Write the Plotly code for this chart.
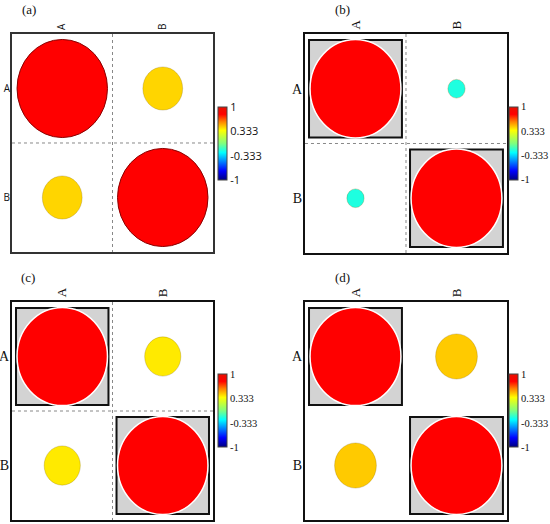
import plotly.graph_objects as go
from plotly.colors import sample_colorscale

# data
variables = ["A", "B"]
panel_names = ["(a)", "(b)", "(c)", "(d)"]
corr_ab = [0.44, -0.19, 0.40, 0.46]        # off-diagonal correlation per panel
sig_diag = [False, True, True, True]       # diagonal cells marked significant
show_grid = [True, True, True, False]
tick_vals = [-1, -0.333, 0.333, 1]
tick_text = ["-1", "-0.333", "0.333", "1"]

jet = [[0, "#00007F"], [0.125, "#0000FF"], [0.25, "#007FFF"], [0.375, "#00FFFF"],
       [0.5, "#7FFF7F"], [0.68, "#FFFF00"], [0.8, "#FF8000"], [0.9, "#FF0000"],
       [1, "#E81000"]]

# layout of the four panels (paper fractions)
dom_x = [[0.0218, 0.3873], [0.5545, 0.9218], [0.0218, 0.3873], [0.5545, 0.9218]]
dom_y = [[0.5191, 0.9351], [0.5172, 0.9351], [0.0076, 0.4237], [0.0076, 0.4237]]
cbar_x = [0.396, 0.926, 0.396, 0.926]
cbar_y = [0.726, 0.727, 0.216, 0.216]
label_pos = [(0.053, 0.981), (0.622, 0.981), (0.051, 0.471), (0.622, 0.471)]
fonts = ["Open Sans", "Liberation Serif", "Liberation Serif", "Liberation Serif"]

fig = go.Figure()
shapes = []
annotations = []

for p in range(4):
    sfx = "" if p == 0 else str(p + 1)
    xa, ya = "x" + sfx, "y" + sfx
    r = corr_ab[p]
    mat = [[1, r], [r, 1]]
    fam = fonts[p]
    sans = p == 0

    # invisible trace carrying the colour scale
    fig.add_trace(go.Scatter(
        x=[0, 1, 0, 1], y=[0, 0, 1, 1], mode="markers", xaxis=xa, yaxis=ya,
        marker=dict(color=[v for row in mat for v in row], coloraxis="coloraxis" + sfx,
                    opacity=0),
        hoverinfo="skip", showlegend=False))

    fig.layout["coloraxis" + sfx] = dict(
        colorscale=jet, cmin=-1, cmax=1,
        colorbar=dict(x=cbar_x[p], xanchor="left", y=cbar_y[p], yanchor="middle",
                      thickness=9, len=73, lenmode="pixels", xpad=0, ypad=0,
                      outlinewidth=1, outlinecolor="#444",
                      tickvals=tick_vals, ticktext=tick_text, ticks="",
                      tickfont=dict(family=fam, size=11 if sans else 10.5, color="#111")))

    fig.layout["xaxis" + sfx] = dict(
        domain=dom_x[p], range=[-0.5, 1.5], anchor=ya, side="top",
        tickvals=[0, 1], ticktext=variables, tickangle=-90, automargin=False,
        tickfont=dict(family=fam, size=10 if sans else 13, color="#111"),
        showgrid=False, zeroline=False, showline=True, mirror=True,
        linecolor="#333" if sans else "#111", linewidth=2, ticks="", fixedrange=True)
    fig.layout["yaxis" + sfx] = dict(
        domain=dom_y[p], range=[1.5, -0.5], anchor=xa, automargin=False,
        tickvals=[0, 1], ticktext=variables, ticklabelstandoff=-2,
        tickfont=dict(family=fam, size=10 if sans else 14, color="#111"),
        showgrid=False, zeroline=False, showline=True, mirror=True,
        linecolor="#333" if sans else "#111", linewidth=2, ticks="", fixedrange=True)

    if show_grid[p]:
        shapes.append(dict(type="line", xref=xa, yref=ya, x0=0.5, x1=0.5, y0=-0.5, y1=1.5,
                           line=dict(color="#888", width=1, dash="dot"), layer="below"))
        shapes.append(dict(type="line", xref=xa, yref=ya, x0=-0.5, x1=1.5, y0=0.5, y1=0.5,
                           line=dict(color="#888", width=1, dash="dot"), layer="below"))

    for i in range(2):
        for j in range(2):
            v = mat[i][j]
            if i == j and sig_diag[p]:
                shapes.append(dict(type="rect", xref=xa, yref=ya,
                                   x0=j - 0.46, x1=j + 0.46, y0=i - 0.445, y1=i + 0.445,
                                   fillcolor="#D3D3D3", line=dict(color="#111", width=2)))
            rad = 0.45 * abs(v)
            col = sample_colorscale(jet, [(v + 1) / 2])[0]
            if abs(v) == 1:
                col = "#FF0000"
                edge = "#FFFFFF" if sig_diag[p] else "#8B0000"
                ew = 1.5 if sig_diag[p] else 1
            else:
                edge = "rgba(120,90,0,0.25)"
                ew = 1
            shapes.append(dict(type="circle", xref=xa, yref=ya,
                               x0=j - rad, x1=j + rad, y0=i - rad, y1=i + rad,
                               fillcolor=col, line=dict(color=edge, width=ew)))

    annotations.append(dict(text=panel_names[p], x=label_pos[p][0], y=label_pos[p][1],
                            xref="paper", yref="paper", xanchor="center", yanchor="middle",
                            showarrow=False,
                            font=dict(family="Liberation Serif", size=13, color="#111")))

fig.update_layout(
    width=550, height=524,
    margin=dict(l=0, r=0, t=0, b=0, autoexpand=False),
    paper_bgcolor="white", plot_bgcolor="white",
    shapes=shapes, annotations=annotations,
    showlegend=False,
)

# drop the browser's default page margin so the figure sits at the corner
fig.write_html("out.html", config={"displayModeBar": False},
               post_script="document.body.style.margin='0';")
